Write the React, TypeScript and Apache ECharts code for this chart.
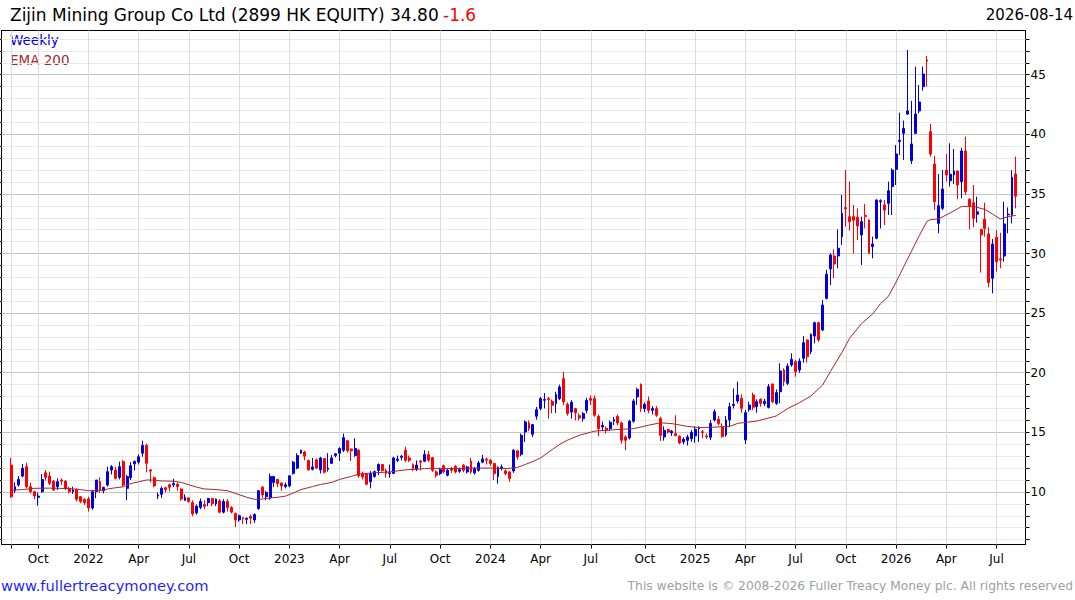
import React, { useEffect, useRef } from "react";
import * as echarts from "echarts";

// ---- categories: weekly (Monday) dates, two empty weeks either side ----
const FIRST_WEEK = "2021-08-02";
const WEEK_COUNT = 265; // 2 pad + 261 candles + 2 pad
const PAD = 2;

// ---- candles: [open, close, low, high] ----
const CANDLES_2021 = [
  [12.25, 9.6, 9.5, 12.85], [10.1, 10.44, 9.9, 10.8], [10.58, 11.05, 10.44, 11.33], [11.33, 11.98, 11.22, 12.35],
  [12.12, 10.44, 10.3, 12.46], [10.44, 10.02, 9.88, 10.78], [10.02, 9.66, 9.38, 10.1], [9.55, 9.65, 8.85, 9.95],
  [10.02, 11.05, 9.93, 11.5], [11.61, 11.22, 10.94, 11.84], [11.33, 10.72, 10.58, 11.7], [10.9, 10.16, 10.1, 11.0],
  [10.44, 10.86, 10.16, 11.14], [11.0, 10.9, 10.58, 11.14], [10.9, 10.3, 10.16, 11.0], [10.3, 10.02, 9.88, 10.44],
  [10.02, 10.16, 9.82, 10.44], [10.2, 9.38, 9.2, 10.3], [9.6, 9.2, 9.05, 9.66], [9.38, 9.1, 8.9, 9.46],
];
const CANDLES_2022 = [
  [9.4, 8.65, 8.35, 9.6], [8.65, 10.02, 8.5, 10.16], [10.02, 11.0, 9.47, 11.0], [10.86, 10.16, 9.93, 11.22],
  [10.1, 10.38, 9.88, 10.44], [10.58, 11.7, 10.44, 12.12], [11.84, 12.12, 11.47, 12.26], [11.84, 11.14, 11.05, 12.12],
  [11.22, 12.12, 11.05, 12.54], [12.54, 10.58, 10.44, 12.68], [10.3, 11.28, 9.3, 11.42], [11.2, 12.2, 11.0, 12.5],
  [12.35, 12.55, 11.8, 12.65], [12.5, 12.95, 12.3, 13.15], [13.25, 13.9, 12.95, 14.3], [13.9, 12.4, 11.65, 14.05],
  [11.85, 11.75, 10.8, 11.9], [11.2, 10.5, 10.4, 11.3], [9.65, 9.75, 9.4, 9.95], [9.8, 10.3, 9.5, 10.45],
  [10.35, 10.2, 9.95, 10.45], [10.6, 10.4, 10.05, 10.7], [10.6, 10.7, 10.4, 11.1], [10.65, 10.45, 10.1, 10.8],
  [10.25, 9.4, 9.25, 10.3], [9.3, 9.55, 9.25, 9.8], [9.5, 9.2, 9.1, 9.55], [9.1, 8.15, 7.95, 9.3],
  [8.25, 8.8, 8.1, 8.95], [8.7, 9.2, 8.55, 9.45], [8.95, 8.8, 8.55, 9.3], [9.1, 9.45, 8.8, 9.5],
  [9.45, 9.0, 8.8, 9.5], [9.0, 9.4, 8.8, 9.45], [9.25, 8.3, 8.2, 9.4], [8.3, 9.2, 8.2, 9.4],
  [9.2, 8.7, 8.35, 9.4], [8.7, 8.3, 8.2, 8.8], [8.2, 7.65, 7.05, 8.25], [7.65, 8.0, 7.5, 8.1],
  [7.85, 7.75, 7.3, 7.9], [7.7, 7.8, 7.3, 7.85], [7.95, 7.8, 7.3, 8.1], [7.65, 8.1, 7.4, 8.2],
  [8.6, 10.1, 8.5, 10.15], [10.4, 9.75, 9.5, 10.5], [9.6, 9.95, 9.3, 10.1], [9.5, 11.3, 9.35, 11.55],
  [10.8, 11.3, 10.4, 11.35], [11.05, 10.7, 10.4, 11.1], [10.75, 10.5, 10.1, 10.8], [10.45, 10.6, 10.3, 10.8],
];
const CANDLES_2023 = [
  [10.5, 11.35, 10.4, 11.4], [11.55, 12.5, 11.45, 12.6], [12.0, 13.05, 11.9, 13.25], [13.25, 13.5, 13.2, 13.55],
  [13.35, 13.0, 12.65, 13.45], [12.65, 11.85, 11.8, 12.7], [11.9, 12.1, 11.8, 12.85], [12.7, 12.0, 11.9, 12.8],
  [11.85, 12.85, 11.55, 12.95], [12.8, 11.65, 11.55, 12.85], [11.9, 12.0, 11.7, 13.25], [12.4, 12.85, 12.35, 13.1],
  [13.05, 13.2, 12.9, 13.25], [13.25, 13.65, 12.6, 13.75], [13.5, 14.55, 13.35, 14.9], [14.3, 13.45, 13.3, 14.35],
  [13.6, 13.45, 12.6, 13.65], [13.05, 13.65, 12.95, 14.5], [13.5, 11.35, 11.2, 13.6], [11.55, 11.25, 11.05, 11.7],
  [11.5, 10.65, 10.55, 11.6], [10.85, 11.55, 10.3, 11.75], [11.3, 11.7, 11.2, 11.8], [11.8, 12.3, 11.4, 12.4],
  [12.3, 11.8, 11.7, 12.35], [11.8, 11.55, 11.2, 11.95], [11.55, 11.6, 11.2, 12.3], [11.55, 12.85, 11.5, 12.95],
  [12.65, 12.75, 12.5, 13.05], [12.9, 13.0, 12.65, 13.1], [13.5, 12.65, 12.5, 13.8], [12.85, 12.65, 12.5, 13.05],
  [12.3, 11.95, 11.75, 12.4], [11.9, 12.25, 11.75, 12.65], [12.6, 12.5, 11.8, 12.7], [12.57, 13.13, 12.5, 13.5],
  [13.13, 12.66, 12.52, 13.44], [12.88, 11.82, 11.68, 12.94], [11.68, 11.4, 11.2, 11.82], [11.54, 11.87, 11.4, 12.04],
  [12.2, 11.68, 11.55, 12.3], [11.4, 11.82, 11.3, 11.95], [11.96, 11.82, 11.6, 12.1], [12.15, 11.68, 11.55, 12.25],
  [11.73, 11.87, 11.6, 12.05], [12.24, 11.82, 11.65, 12.35], [11.68, 12.1, 11.55, 12.2], [12.57, 11.68, 11.5, 12.85],
  [11.6, 11.96, 11.45, 12.1], [11.82, 12.43, 11.7, 12.6], [12.5, 12.77, 12.4, 13.1], [12.74, 12.66, 12.3, 12.9],
];
const CANDLES_2024 = [
  [12.66, 12.38, 12.2, 12.75], [12.38, 11.54, 11.0, 12.45], [11.3, 12.04, 10.7, 12.15], [11.96, 12.1, 11.8, 12.3],
  [11.76, 11.54, 11.4, 11.9], [11.68, 11.12, 10.85, 11.75], [11.76, 13.5, 11.6, 13.6], [13.44, 12.94, 12.7, 13.55],
  [13.16, 14.75, 13.0, 14.9], [15.03, 15.87, 14.2, 16.0], [15.78, 15.31, 15.1, 16.0], [14.84, 15.65, 14.6, 15.7],
  [16.35, 16.9, 16.07, 17.13], [17.0, 17.83, 16.85, 17.97], [17.69, 17.75, 17.0, 18.3], [17.83, 17.75, 16.15, 17.97],
  [17.6, 17.27, 16.6, 17.75], [17.41, 18.17, 16.63, 18.4], [17.83, 18.8, 17.7, 19.0], [19.5, 17.55, 17.27, 20.07],
  [17.35, 16.57, 16.4, 17.5], [16.7, 17.52, 16.15, 17.7], [16.99, 16.63, 16.0, 17.05], [16.4, 16.2, 16.0, 16.6],
  [16.15, 16.57, 15.9, 16.7], [16.85, 17.69, 16.6, 17.9], [17.83, 17.69, 17.3, 18.1], [17.83, 16.43, 16.3, 18.1],
  [16.35, 15.31, 14.67, 16.5], [15.45, 15.59, 15.1, 15.9], [15.34, 15.17, 14.9, 15.5], [15.31, 15.84, 15.1, 16.0],
  [15.93, 16.07, 15.6, 16.3], [16.35, 15.79, 15.6, 16.5], [15.79, 14.33, 14.05, 15.9], [14.61, 14.33, 13.5, 14.75],
  [14.53, 15.93, 14.4, 16.05], [15.93, 17.63, 15.8, 17.8], [17.97, 18.6, 17.3, 18.75], [19.03, 16.99, 16.7, 19.1],
  [16.99, 17.33, 16.7, 17.5], [17.63, 16.85, 16.6, 18.0], [16.85, 16.99, 16.5, 17.2], [16.99, 16.43, 16.3, 17.2],
  [16.15, 14.75, 14.28, 16.3], [14.61, 15.17, 14.3, 15.5], [15.23, 15.03, 14.9, 15.3], [14.95, 15.1, 14.7, 15.2],
  [14.89, 14.72, 14.67, 16.43], [14.67, 14.11, 14.0, 14.75], [14.19, 14.42, 14.0, 14.6], [14.33, 14.61, 13.9, 14.8],
  [14.47, 15.0, 14.2, 15.2],
];
const CANDLES_2025 = [
  [14.7, 15.25, 14.13, 15.5], [15.3, 15.4, 14.2, 15.5], [15.05, 14.98, 14.5, 15.2], [14.7, 14.63, 14.45, 14.9],
  [14.58, 15.75, 14.35, 16.03], [16.03, 16.73, 15.9, 16.93], [16.09, 15.75, 15.6, 16.37], [15.42, 14.64, 14.55, 15.75],
  [14.78, 16.03, 14.64, 16.37], [16.03, 17.15, 15.48, 17.49], [17.24, 17.35, 17.0, 18.69], [17.63, 18.13, 17.43, 19.25],
  [17.85, 17.01, 16.65, 18.2], [14.36, 16.65, 14.02, 16.87], [16.92, 17.29, 16.73, 17.57], [18.13, 17.1, 16.87, 18.33],
  [17.15, 17.57, 16.65, 17.77], [17.77, 17.43, 17.15, 17.85], [17.4, 17.6, 17.2, 17.8], [17.09, 18.83, 17.0, 19.05],
  [19.05, 17.57, 17.43, 19.11], [17.43, 18.33, 17.3, 18.6], [18.41, 20.15, 17.43, 20.79], [20.23, 19.25, 18.89, 20.37],
  [19.11, 20.56, 18.97, 20.79], [20.65, 21.12, 20.5, 21.63], [20.93, 20.09, 19.67, 21.07], [20.23, 20.98, 20.0, 21.21],
  [21.21, 22.52, 20.85, 23.08], [22.75, 21.35, 20.85, 22.8], [21.77, 23.22, 21.55, 23.3], [23.08, 24.2, 22.47, 24.28],
  [24.2, 22.75, 22.6, 24.28], [23.58, 25.68, 23.5, 26.1], [26.24, 28.26, 26.15, 28.62], [28.7, 29.88, 27.36, 30.02],
  [29.8, 29.12, 27.92, 30.35], [29.8, 30.44, 28.76, 32.03], [31.4, 33.37, 30.72, 34.91], [33.85, 33.75, 32.25, 37.0],
  [33.09, 32.67, 31.92, 36.03], [33.1, 32.8, 30.02, 34.07], [33.04, 32.31, 31.14, 33.79], [31.56, 32.67, 29.04, 33.09],
  [33.2, 33.1, 32.11, 34.15], [32.81, 30.02, 29.96, 32.87], [30.58, 30.8, 29.6, 31.42], [31.28, 34.49, 31.2, 34.55],
  [34.35, 34.43, 32.11, 34.55], [34.07, 33.65, 32.39, 34.49], [34.21, 35.27, 33.23, 36.03], [35.61, 37.0, 33.23, 37.15],
];
const CANDLES_2026 = [
  [37.06, 38.35, 35.75, 39.1], [39.4, 39.5, 38.27, 41.82], [40.08, 40.5, 37.85, 41.15], [41.7, 41.96, 41.62, 47.07],
  [37.79, 39.19, 37.51, 42.8], [40.08, 41.7, 40.03, 45.68], [41.96, 42.71, 41.76, 44.14], [44.0, 45.06, 43.66, 45.68],
  [46.23, 46.15, 44.0, 46.57], [40.22, 38.35, 38.13, 40.87], [37.51, 34.35, 33.65, 38.18], [32.53, 34.01, 31.7, 36.67],
  [33.79, 35.41, 33.65, 37.0], [37.0, 36.59, 36.03, 38.35], [36.11, 36.65, 35.61, 39.25], [36.59, 36.92, 35.83, 38.77],
  [36.92, 35.75, 34.57, 36.95], [36.03, 38.6, 34.63, 38.88], [38.6, 35.19, 34.91, 39.8], [34.55, 33.99, 32.03, 34.63],
  [34.27, 32.95, 32.2, 35.75], [33.3, 33.5, 32.59, 34.77], [32.03, 31.56, 28.4, 32.03], [32.87, 32.11, 31.42, 34.27],
  [31.64, 27.57, 27.16, 32.2], [27.92, 30.8, 26.66, 31.22], [31.36, 29.32, 28.48, 31.97], [29.55, 29.46, 28.76, 31.75],
  [29.79, 32.48, 29.32, 34.35], [33.25, 33.3, 31.7, 33.87], [33.23, 36.4, 32.53, 37.0], [36.67, 34.8, 33.79, 38.13],
];

// ---- EMA 200: [candle index, value] ----
const EMA_POINTS = [
  [0, 10.14], [3, 10.2], [6, 10.3], [10, 10.32], [15, 10.28], [18, 10.2], [20, 10.1], [22, 10.12], [24, 10.15],
  [25, 10.25], [27, 10.35], [29, 10.43], [31, 10.7], [33, 10.85], [35, 11.0], [37, 11.0], [39, 10.92], [42, 10.9],
  [44, 10.8], [46, 10.6], [48, 10.4], [50, 10.25], [53, 10.2], [56, 10.1], [58, 9.88], [61, 9.55], [63, 9.38],
  [65, 9.4], [67, 9.5], [69, 9.55], [71, 9.65], [73, 9.9], [75, 10.2], [78, 10.45], [80, 10.62], [83, 10.8],
  [85, 11.05], [88, 11.3], [90, 11.5], [94, 11.6], [98, 11.68], [102, 11.85], [107, 11.95], [109, 12.0], [111, 11.96],
  [115, 11.96], [120, 12.0], [124, 12.0], [128, 11.96], [131, 12.05], [133, 12.3], [135, 12.55], [137, 12.85],
  [140, 13.55], [142, 14.0], [144, 14.35], [147, 14.75], [151, 15.1], [154, 15.17], [158, 15.26], [161, 15.3],
  [165, 15.6], [168, 15.8], [171, 15.73], [175, 15.5], [178, 15.4], [181, 15.42], [186, 15.5], [188, 15.75],
  [193, 15.95], [198, 16.37], [201, 17.0], [204, 17.49], [207, 18.05], [210, 18.97], [212, 20.1], [215, 21.7],
  [217, 22.9], [220, 24.1], [223, 24.95], [225, 25.8], [227, 26.4], [229, 27.6], [231, 28.9], [233, 30.2],
  [235, 31.5], [237, 32.7], [238, 32.85], [240, 32.9], [243, 33.4], [246, 33.95], [249, 33.95], [252, 33.7],
  [254, 33.3], [256, 32.9], [258, 33.1], [260, 33.2],
];

// ---- axis values ----
const Y_MIN = 5.59;
const Y_MAX = 48.71;
const Y_LABELS = [10, 15, 20, 25, 30, 35, 40, 45];
const Y_TICKS = [6, 7, 8, 9, 10, 11, 12, 13, 14, 15, 16, 17, 18, 19, 20, 21, 22, 23, 24, 25, 26, 27, 28, 29, 30,
  31, 32, 33, 34, 35, 36, 37, 38, 39, 40, 41, 42, 43, 44, 45, 46, 47, 48];
const QUARTER_LABELS: Record<number, string> = { 3: "Apr", 6: "Jul", 9: "Oct" };

const TITLE = "Zijin Mining Group Co Ltd (2899 HK EQUITY)";
const AS_OF = "2026-08-14";

const FONT = '"DejaVu Sans", Verdana, sans-serif';

function buildCategories(): string[] {
  const t0 = Date.parse(FIRST_WEEK + "T00:00:00Z");
  const out: string[] = [];
  for (let k = 0; k < WEEK_COUNT; k++) out.push(new Date(t0 + k * 7 * 86400000).toISOString().slice(0, 10));
  return out;
}

export default function App() {
  const ref = useRef<HTMLDivElement>(null);

  useEffect(() => {
    if (!ref.current) return;
    document.body.style.margin = "0";
    document.body.style.padding = "0";
    const chart = echarts.init(ref.current, null, { renderer: "svg" });

    const cats = buildCategories();
    const candles = [...CANDLES_2021, ...CANDLES_2022, ...CANDLES_2023, ...CANDLES_2024, ...CANDLES_2025, ...CANDLES_2026];
    const candleData: any[] = cats.map(() => "-");
    candles.forEach((c, i) => {
      candleData[i + PAD] = [c[0], c[1], c[2], c[3]];
    });
    const emaData = EMA_POINTS.map(([i, v]) => [cats[i + PAD], v]);

    const isTick = (k: number) => {
      if (k === PAD) return true;
      const d = cats[k];
      if (!d) return false;
      const m = Number(d.slice(5, 7)) - 1;
      const day = Number(d.slice(8, 10));
      return m % 3 === 0 && day <= 7 && k >= PAD && k < PAD + candles.length;
    };
    const tickIdx = cats.map((_, k) => k).filter(isTick);
    const labelOf = (v: string, k: number) => {
      if (k === PAD) return "";
      const m = Number(v.slice(5, 7)) - 1;
      return m === 0 ? v.slice(0, 4) : QUARTER_LABELS[m] || "";
    };

    const lastClose = candles[candles.length - 1][1];
    const prevClose = candles[candles.length - 2][1];
    const change = lastClose - prevClose;

    const gridLines: any[] = [
      ...Y_TICKS.map((v) => ({
        yAxis: v,
        lineStyle: { color: Y_LABELS.includes(v) ? "#c4c4c4" : "#e9e9e9", width: 1, type: "solid" },
      })),
      ...tickIdx.map((k) => ({ xAxis: cats[k], lineStyle: { color: "#dcdcdc", width: 1, type: "solid" } })),
    ];

    chart.setOption({
      animation: false,
      backgroundColor: "#ffffff",
      grid: {
        left: 1.5,
        right: 49.5,
        top: 30.5,
        bottom: 55.5,
        show: true,
        borderColor: "#000000",
        borderWidth: 1,
        backgroundColor: "transparent",
        containLabel: false,
        outerBoundsMode: "none",
      },
      xAxis: {
        type: "category",
        data: cats,
        boundaryGap: true,
        axisLine: { show: true, lineStyle: { color: "#000", width: 1 } },
        axisTick: {
          show: true,
          alignWithLabel: true,
          interval: (k: number) => isTick(k),
          length: 4,
          lineStyle: { color: "#000", width: 1 },
        },
        axisLabel: {
          show: true,
          interval: (k: number) => isTick(k),
          formatter: (v: string, k: number) => labelOf(v, k),
          color: "#000",
          fontSize: 12,
          fontFamily: FONT,
          margin: 8,
          hideOverlap: false,
        },
        splitLine: { show: false },
      },
      yAxis: [
        {
          type: "value",
          position: "right",
          min: Y_MIN,
          max: Y_MAX,
          axisLine: { show: true, onZero: false, lineStyle: { color: "#000", width: 1 } },
          axisTick: { show: true, customValues: Y_TICKS, length: 4, lineStyle: { color: "#000", width: 1 } },
          axisLabel: {
            show: true,
            customValues: Y_LABELS,
            color: "#000",
            fontSize: 12,
            fontFamily: FONT,
            margin: 5,
          },
          splitLine: { show: false },
        },
        {
          type: "value",
          position: "left",
          min: Y_MIN,
          max: Y_MAX,
          axisLine: { show: true, onZero: false, lineStyle: { color: "#000", width: 1 } },
          axisTick: { show: true, customValues: Y_TICKS, length: 3, lineStyle: { color: "#000", width: 1 } },
          axisLabel: { show: false },
          splitLine: { show: false },
        },
      ],
      tooltip: { show: false },
      series: [
        {
          type: "line",
          name: "grid",
          data: [],
          silent: true,
          markLine: {
            silent: true,
            z: 1,
            symbol: ["none", "none"],
            label: { show: false },
            emphasis: { disabled: true },
            animation: false,
            data: gridLines,
          },
        },
        {
          type: "candlestick",
          name: "Weekly",
          z: 3,
          data: candleData,
          barWidth: 2.4,
          silent: true,
          itemStyle: {
            color: "#0000dd",
            color0: "#ff0000",
            borderColor: "#0000dd",
            borderColor0: "#ff0000",
            borderWidth: 1,
          },
        },
        {
          type: "line",
          name: "EMA 200",
          z: 4,
          data: emaData,
          showSymbol: false,
          symbol: "none",
          silent: true,
          lineStyle: { color: "#a3282c", width: 1 },
        },
      ],
      graphic: [
        {
          type: "text",
          x: 10,
          y: 15.3,
          silent: true,
          style: {
            text: `${TITLE} ${lastClose.toFixed(2)}`,
            fill: "#000",
            font: `17px ${FONT}`,
            verticalAlign: "middle",
          },
        },
        {
          type: "text",
          x: 443,
          y: 15.3,
          silent: true,
          style: { text: change.toFixed(1), fill: "#ff0000", font: `17px ${FONT}`, verticalAlign: "middle" },
        },
        {
          type: "text",
          x: 1073,
          y: 14.8,
          silent: true,
          style: { text: AS_OF, fill: "#000", font: `15px ${FONT}`, align: "right", verticalAlign: "middle" },
        },
        {
          type: "text",
          x: 10,
          y: 40.3,
          silent: true,
          style: { text: "Weekly", fill: "#0000ee", font: `13.5px ${FONT}`, verticalAlign: "middle" },
        },
        {
          type: "text",
          x: 10,
          y: 59.8,
          silent: true,
          style: { text: "EMA 200", fill: "#a52a2a", font: `13.5px ${FONT}`, verticalAlign: "middle" },
        },
        {
          type: "text",
          x: 1,
          y: 585,
          silent: true,
          style: { text: "www.fullertreacymoney.com", fill: "#1f1fff", font: `14.7px ${FONT}`, verticalAlign: "middle" },
        },
        {
          type: "text",
          x: 1073,
          y: 585.5,
          silent: true,
          style: {
            text: "This website is \u00a9 2008-2026 Fuller Treacy Money plc. All rights reserved",
            fill: "#a0a0a0",
            font: `12.3px ${FONT}`,
            align: "right",
            verticalAlign: "middle",
          },
        },
      ],
    });

    return () => chart.dispose();
  }, []);

  return (
    <div
      ref={ref}
      style={{ position: "relative", margin: 0, width: 1075, height: 600, background: "#fff" }}
    />
  );
}
